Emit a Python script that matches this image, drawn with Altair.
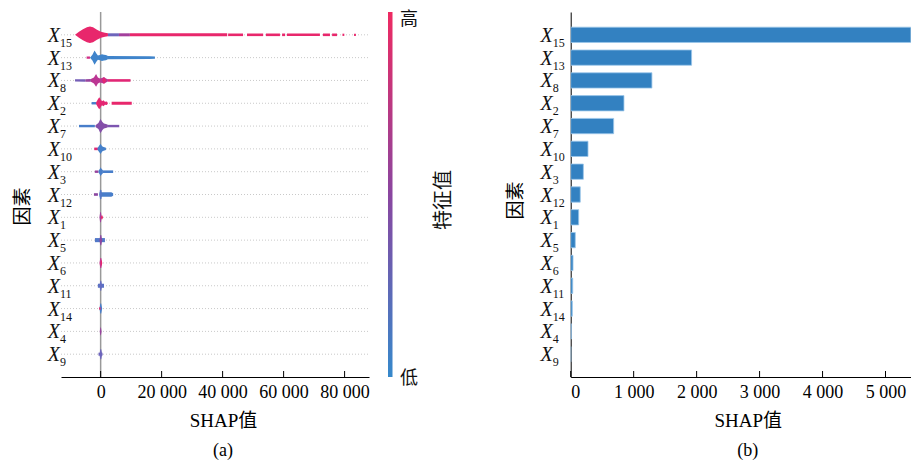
import altair as alt
import pandas as pd

# ---------------- data ----------------
features = ["15", "13", "8", "2", "7", "10", "3", "12", "1", "5", "6", "11", "14", "4", "9"]
mean_abs_shap = [5530, 1920, 1290, 846, 682, 275, 201, 152, 127, 73, 37, 32, 26, 10, 3]

left_ticks = [0, 20000, 40000, 60000, 80000]
right_ticks = [0, 1000, 2000, 3000, 4000, 5000]

# beeswarm outline pieces:
# feature, feature value (0 low .. 1 high), SHAP positions, half-spread (in rows)
shape_feature = [
    "15", "15", "15", "15", "15", "15", "15", "15", "15", "15", "15", "15", "15",
    "13", "13", "13",
    "8", "8", "8", "8", "8",
    "2", "2", "2",
    "7", "7", "7",
    "10", "10",
    "3", "3", "3",
    "12", "12", "12",
    "1", "1",
    "5", "5",
    "6", "6",
    "11", "11",
    "14", "14",
    "4",
    "9", "9",
]
shape_value = [
    0.95, 0.30, 0.60, 0.95, 0.95, 0.95, 0.95, 0.95, 0.95, 0.95, 0.95, 0.95, 0.95,
    0.80, 0.05, 0.05,
    0.35, 0.55, 0.70, 0.92, 0.90,
    0.10, 0.92, 0.95,
    0.10, 0.45, 0.40,
    0.90, 0.08,
    0.55, 0.10, 0.10,
    0.50, 0.10, 0.15,
    0.60, 0.95,
    0.15, 0.50,
    0.75, 0.95,
    0.20, 0.25,
    0.10, 0.95,
    0.55,
    0.30, 0.30,
]
shape_x = [
    [-8400, -7100, -5800, -4500, -3500, -2500, -1200, 100, 1400, 2400],
    [2400, 6000],
    [6000, 9600],
    [9600, 41500],
    [41800, 46700],
    [48000, 53300],
    [54200, 58800],
    [59500, 60500],
    [61100, 71900],
    [72900, 75200],
    [75900, 77500],
    [79300, 79900],
    [83100, 83700],
    [-4600, -3500],
    [-3500, -2700, -2000, -1400, -900, -230, 430, 1080, 1740, 2400],
    [2400, 16000, 17800],
    [-8400, -5000],
    [-5000, -3200],
    [-3200, -2200, -1500, -900, -230, 430, 1080, 1740, 2400],
    [500, 1100, 1900],
    [2400, 9800],
    [-2950, -1300],
    [-1500, -900, -460, 100, 430, 920, 1410, 2070, 2390],
    [3600, 10200],
    [-7100, -1900],
    [-1700, -720, -70, 590, 1080, 1740, 2390],
    [2390, 6100],
    [-2100, -900],
    [-1050, -560, 0, 430, 750, 1740],
    [-1900, -720],
    [-720, -230, 0, 260, 750],
    [750, 4100],
    [-2200, -900],
    [-300, 3500, 4100],
    [-460, -230, 0, 260, 490],
    [-390, -160, 100, 330],
    [100, 260, 590, 750],
    [-1870, 1410],
    [-390, -100, 200, 500],
    [-390, -100, 200, 500],
    [0, 150, 350, 500],
    [-900, 1100],
    [-390, -100, 200, 500],
    [-390, -100, 200, 500],
    [-500, -350, -150, 0],
    [-300, -100, 100, 300],
    [-700, 600],
    [-390, -100, 200, 500],
]
shape_spread = [
    [0, 0.13, 0.24, 0.33, 0.36, 0.33, 0.22, 0.13, 0.09, 0.066],
    [0.066, 0.066],
    [0.066, 0.066],
    [0.066, 0.066],
    [0.057, 0.057],
    [0.057, 0.057],
    [0.057, 0.057],
    [0.057, 0.057],
    [0.057, 0.057],
    [0.057, 0.057],
    [0.057, 0.057],
    [0.05, 0.05],
    [0.05, 0.05],
    [0.05, 0.05],
    [0, 0.13, 0.31, 0.18, 0.09, 0.11, 0.15, 0.13, 0.11, 0.07],
    [0.075, 0.065, 0.045],
    [0.05, 0.055],
    [0.055, 0.06],
    [0.06, 0.13, 0.28, 0.13, 0.09, 0.11, 0.15, 0.09, 0.05],
    [0, 0.14, 0],
    [0.057, 0.057],
    [0.053, 0.053],
    [0.03, 0.175, 0.26, 0.15, 0.088, 0.13, 0.066, 0.08, 0],
    [0.066, 0.066],
    [0.053, 0.053],
    [0.04, 0.13, 0.31, 0.175, 0.11, 0.088, 0.053],
    [0.053, 0.053],
    [0.057, 0.057],
    [0.03, 0.13, 0.22, 0.13, 0.088, 0.05],
    [0.053, 0.053],
    [0.03, 0.13, 0.2, 0.13, 0.066],
    [0.057, 0.057],
    [0.057, 0.057],
    [0.1, 0.1, 0.06],
    [0, 0.175, 0.22, 0.175, 0],
    [0, 0.22, 0.22, 0],
    [0, 0.08, 0.08, 0],
    [0.09, 0.09],
    [0, 0.22, 0.22, 0],
    [0, 0.22, 0.22, 0],
    [0, 0.11, 0.11, 0],
    [0.088, 0.088],
    [0, 0.22, 0.22, 0],
    [0, 0.22, 0.22, 0],
    [0, 0.066, 0.066, 0],
    [0, 0.175, 0.175, 0],
    [0.066, 0.066],
    [0, 0.22, 0.22, 0],
]

# ---------------- tables ----------------
swarm_rows = []
for i, (f, v, xs, hs) in enumerate(zip(shape_feature, shape_value, shape_x, shape_spread)):
    r = features.index(f)
    for x, h in zip(xs, hs):
        swarm_rows.append({"sid": f"s{i:03d}", "fv": v, "x": x, "y0": r - h, "y1": r + h})
swarm = pd.DataFrame(swarm_rows)

labels = pd.DataFrame({"row": list(range(len(features))), "sub": features})
bars = pd.DataFrame({
    "row": list(range(len(features))),
    "v": mean_abs_shap,
    "zero": [0] * len(features),
})
bars["y0"] = bars["row"] - 0.335
bars["y1"] = bars["row"] + 0.335

# ---------------- styling ----------------
SERIF = "Liberation Serif"
CJK = "Liberation Serif, Noto Sans CJK SC"
LOW, MID, HIGH = "#3689CB", "#8A46A0", "#EE2A62"

LW, LH = 308, 365
RW, RH = 340, 365

label_expr = "replace(format(datum.value, ','), ',', ' ')"

yscale = alt.Scale(domain=[-1, 15], reverse=True, nice=False, zero=False)


def y_axis(title_x, title_y, domain):
    return alt.Axis(title="因素", labels=False, ticks=False, grid=False, domain=domain,
                    domainColor="#000", domainWidth=1,
                    titleX=title_x, titleY=title_y, titleBaseline="middle",
                    titleFont=CJK, titleFontSize=19, titleFontWeight="normal", titleColor="#000")


def x_axis(values, title_x):
    return alt.Axis(title="SHAP值", values=values, labelExpr=label_expr, grid=False,
                    tickSize=0, labelPadding=6, labelFont=SERIF, labelFontSize=18,
                    labelColor="#000", domainColor="#000", domainWidth=1,
                    titleFont=CJK, titleFontSize=19, titleFontWeight="normal",
                    titleColor="#000", titlePadding=10, titleX=title_x)


lx_scale = alt.Scale(domain=[-13000, 88000], nice=False, zero=False)
lx_axis = x_axis(left_ticks, 162)
ly_axis = y_axis(-39, 194, False)


def LX(field):
    return alt.X(field, type="quantitative", scale=lx_scale, axis=lx_axis)


def LY(field):
    return alt.Y(field, type="quantitative", scale=yscale, axis=ly_axis)


color = alt.Color("fv:Q", scale=alt.Scale(domain=[0, 0.5, 1], range=[LOW, MID, HIGH]), legend=None)

grid = alt.Chart(labels).mark_rule(color="#c9c9c9", strokeDash=[1, 2], strokeWidth=1).encode(
    y=LY("row"), x=alt.value(0), x2=alt.value(LW))

zero_line = alt.Chart(pd.DataFrame({"x": [0]})).mark_rule(color="#999999", strokeWidth=1.5).encode(
    x=LX("x"), y=alt.value(0), y2=alt.value(LH))

swarm_layer = alt.Chart(swarm).mark_area(interpolate="linear").encode(
    x=LX("x"), y=LY("y0"), y2=alt.Y2("y1"), detail="sid:N", color=color)

lticks = alt.Chart(pd.DataFrame({"x": left_ticks})).mark_rule(color="#000", strokeWidth=1).encode(
    x=LX("x"), y=alt.value(LH - 6), y2=alt.value(LH))

lX = alt.Chart(labels).mark_text(text="X", font=SERIF, fontStyle="italic", fontSize=20,
                                 align="right", baseline="middle", dy=1, color="#111").encode(
    x=alt.value(-1), y=LY("row"))
lsub = alt.Chart(labels).mark_text(font=SERIF, fontSize=12, align="left", baseline="middle",
                                   dy=8, color="#111").encode(
    x=alt.value(-1), y=LY("row"), text="sub:N")

cbar = alt.Chart(pd.DataFrame({"a": [0]})).mark_rect(
    fill=alt.LinearGradient(gradient="linear", x1=0, x2=0, y1=0, y2=1,
                            stops=[alt.GradientStop(offset=0, color=HIGH),
                                   alt.GradientStop(offset=0.5, color=MID),
                                   alt.GradientStop(offset=1, color=LOW)])).encode(
    x=alt.value(327), x2=alt.value(331.5), y=alt.value(0), y2=alt.value(LH))

t_high = alt.Chart(pd.DataFrame({"a": [0]})).mark_text(
    text="高", font=CJK, fontSize=18, align="left", baseline="middle", color="#111").encode(
    x=alt.value(339), y=alt.value(8))
t_low = alt.Chart(pd.DataFrame({"a": [0]})).mark_text(
    text="低", font=CJK, fontSize=18, align="left", baseline="middle", color="#111").encode(
    x=alt.value(339), y=alt.value(367))
t_fv = alt.Chart(pd.DataFrame({"a": [0]})).mark_text(
    text="特征值", font=CJK, fontSize=20, align="center", baseline="middle", angle=270,
    color="#111").encode(x=alt.value(383), y=alt.value(188))

left = alt.layer(grid, zero_line, swarm_layer, lticks, lX, lsub, cbar, t_high, t_low, t_fv).properties(
    width=LW, height=LH,
    title=alt.TitleParams("(a)", orient="bottom", font=SERIF, fontSize=18, fontWeight="normal",
                          color="#000", offset=12, frame="group", dx=8))

# ---------------- right panel ----------------
rx_scale = alt.Scale(domain=[0, 5400], nice=False, zero=False)
rx_axis = x_axis(right_ticks, 177)
ry_axis = y_axis(-55, 188, True)


def RX(field):
    return alt.X(field, type="quantitative", scale=rx_scale, axis=rx_axis)


def RY(field):
    return alt.Y(field, type="quantitative", scale=yscale, axis=ry_axis)


bar_layer = alt.Chart(bars).mark_rect(fill="#3381C1", stroke="#9cc6ea", strokeWidth=0.8,
                                      clip=True).encode(
    x=RX("v"), x2=alt.X2("zero"), y=RY("y0"), y2=alt.Y2("y1"))

rticks = alt.Chart(pd.DataFrame({"x": right_ticks})).mark_rule(color="#000", strokeWidth=1).encode(
    x=RX("x"), y=alt.value(RH - 6), y2=alt.value(RH))

rX = alt.Chart(labels).mark_text(text="X", font=SERIF, fontStyle="italic", fontSize=20,
                                 align="right", baseline="middle", dy=1, color="#111").encode(
    x=alt.value(-18), y=RY("row"))
rsub = alt.Chart(labels).mark_text(font=SERIF, fontSize=12, align="left", baseline="middle",
                                   dy=8, color="#111").encode(
    x=alt.value(-18), y=RY("row"), text="sub:N")

right = alt.layer(bar_layer, rticks, rX, rsub).properties(
    width=RW, height=RH,
    title=alt.TitleParams("(b)", orient="bottom", font=SERIF, fontSize=18, fontWeight="normal",
                          color="#000", offset=12, frame="group", dx=7))

chart = alt.hconcat(left, right, spacing=201.7, bounds="flush").properties(
    padding={"left": 5, "top": 3, "right": 0, "bottom": 0},
    background="white",
).configure_view(stroke=None)

chart.save("out.html", embed_options={"renderer": "svg", "actions": False})
